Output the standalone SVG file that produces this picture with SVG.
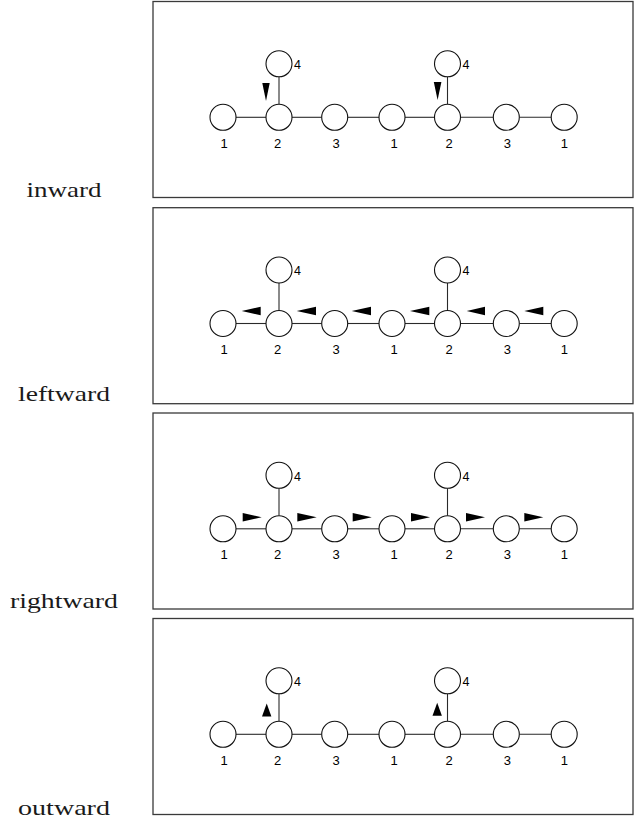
<svg xmlns="http://www.w3.org/2000/svg" width="639" height="819" viewBox="0 0 639 819">
  <style>
    .frame { fill: #ffffff; stroke: #3a3a3a; stroke-width: 1.3; }
    .edge { stroke: #2a2a2a; stroke-width: 1.1; fill: none; }
    .node circle { fill: #ffffff; stroke: #111111; stroke-width: 1.1; }
    .num { font-family: "Liberation Sans", Arial, sans-serif; font-size: 13px; fill: #000000; text-anchor: middle; }
    .num4 { font-family: "Liberation Sans", Arial, sans-serif; font-size: 12.5px; fill: #000000; }
    .mode { font-family: "Liberation Serif", "DejaVu Serif", serif; font-size: 21.5px; fill: #1a1a1a; text-anchor: middle; }
    .arrow { fill: #000000; }
  </style>
  <rect width="639" height="819" fill="#ffffff"/>

  <!-- mode captions -->
  <g id="captions">
    <text class="mode" x="64" y="197" textLength="75" lengthAdjust="spacingAndGlyphs">inward</text>
    <text class="mode" x="64" y="400.5" textLength="92" lengthAdjust="spacingAndGlyphs">leftward</text>
    <text class="mode" x="64" y="608" textLength="108" lengthAdjust="spacingAndGlyphs">rightward</text>
    <text class="mode" x="64" y="815" textLength="92" lengthAdjust="spacingAndGlyphs">outward</text>
  </g>

  <!-- ===== panel: inward ===== -->
  <g id="panel-inward">
    <rect class="frame" x="153" y="1.5" width="480" height="196"/>
    <g id="inward-connectors">
      <line class="edge" x1="236" y1="117.3" x2="266" y2="117.3"/>
      <line class="edge" x1="292" y1="117.3" x2="321.7" y2="117.3"/>
      <line class="edge" x1="347.7" y1="117.3" x2="379" y2="117.3"/>
      <line class="edge" x1="405" y1="117.3" x2="434.5" y2="117.3"/>
      <line class="edge" x1="460.5" y1="117.3" x2="493.3" y2="117.3"/>
      <line class="edge" x1="519.3" y1="117.3" x2="551.2" y2="117.3"/>
      <line class="edge" x1="279" y1="76.8" x2="279" y2="104.3"/>
      <line class="edge" x1="447.5" y1="76.8" x2="447.5" y2="104.3"/>
    </g>
    <g id="inward-n1a" class="node"><circle cx="223" cy="117.3" r="13"/><text class="num" x="224" y="147.5">1</text></g>
    <g id="inward-n2a" class="node"><circle cx="279" cy="117.3" r="13"/><text class="num" x="277.5" y="147.5">2</text></g>
    <g id="inward-n3a" class="node"><circle cx="334.7" cy="117.3" r="13"/><text class="num" x="336" y="147.5">3</text></g>
    <g id="inward-n1b" class="node"><circle cx="392" cy="117.3" r="13"/><text class="num" x="394" y="147.5">1</text></g>
    <g id="inward-n2b" class="node"><circle cx="447.5" cy="117.3" r="13"/><text class="num" x="449" y="147.5">2</text></g>
    <g id="inward-n3b" class="node"><circle cx="506.3" cy="117.3" r="13"/><text class="num" x="507.3" y="147.5">3</text></g>
    <g id="inward-n1c" class="node"><circle cx="564.2" cy="117.3" r="13"/><text class="num" x="564.3" y="147.5">1</text></g>
    <g id="inward-n4a" class="node"><circle cx="279" cy="63.8" r="13"/><text class="num4" x="294" y="69.3">4</text></g>
    <g id="inward-n4b" class="node"><circle cx="447.5" cy="63.8" r="13"/><text class="num4" x="462.5" y="69.3">4</text></g>
    <g id="inward-arrows">
      <polygon class="arrow" points="262.3,83 269.7,83 266,101"/>
      <polygon class="arrow" points="433.8,82 441.4,82 437.6,100"/>
    </g>
  </g>

  <!-- ===== panel: leftward ===== -->
  <g id="panel-leftward" transform="translate(0,206.2)">
    <rect class="frame" x="153" y="1.5" width="480" height="196"/>
    <g id="leftward-connectors">
      <line class="edge" x1="236" y1="117.3" x2="266" y2="117.3"/>
      <line class="edge" x1="292" y1="117.3" x2="321.7" y2="117.3"/>
      <line class="edge" x1="347.7" y1="117.3" x2="379" y2="117.3"/>
      <line class="edge" x1="405" y1="117.3" x2="434.5" y2="117.3"/>
      <line class="edge" x1="460.5" y1="117.3" x2="493.3" y2="117.3"/>
      <line class="edge" x1="519.3" y1="117.3" x2="551.2" y2="117.3"/>
      <line class="edge" x1="279" y1="76.8" x2="279" y2="104.3"/>
      <line class="edge" x1="447.5" y1="76.8" x2="447.5" y2="104.3"/>
    </g>
    <g id="leftward-n1a" class="node"><circle cx="223" cy="117.3" r="13"/><text class="num" x="224" y="147.5">1</text></g>
    <g id="leftward-n2a" class="node"><circle cx="279" cy="117.3" r="13"/><text class="num" x="277.5" y="147.5">2</text></g>
    <g id="leftward-n3a" class="node"><circle cx="334.7" cy="117.3" r="13"/><text class="num" x="336" y="147.5">3</text></g>
    <g id="leftward-n1b" class="node"><circle cx="392" cy="117.3" r="13"/><text class="num" x="394" y="147.5">1</text></g>
    <g id="leftward-n2b" class="node"><circle cx="447.5" cy="117.3" r="13"/><text class="num" x="449" y="147.5">2</text></g>
    <g id="leftward-n3b" class="node"><circle cx="506.3" cy="117.3" r="13"/><text class="num" x="507.3" y="147.5">3</text></g>
    <g id="leftward-n1c" class="node"><circle cx="564.2" cy="117.3" r="13"/><text class="num" x="564.3" y="147.5">1</text></g>
    <g id="leftward-n4a" class="node"><circle cx="279" cy="63.8" r="13"/><text class="num4" x="294" y="69.3">4</text></g>
    <g id="leftward-n4b" class="node"><circle cx="447.5" cy="63.8" r="13"/><text class="num4" x="462.5" y="69.3">4</text></g>
    <g id="leftward-arrows">
      <polygon class="arrow" points="241.7,104.8 260.7,100.6 260.7,109"/>
      <polygon class="arrow" points="296.7,104.8 316,100.6 316,109"/>
      <polygon class="arrow" points="351.7,104.8 371,100.6 371,109"/>
      <polygon class="arrow" points="410,104.8 429.3,100.6 429.3,109"/>
      <polygon class="arrow" points="466.7,104.8 485,100.6 485,109"/>
      <polygon class="arrow" points="524.3,104.8 543.3,100.6 543.3,109"/>
    </g>
  </g>

  <!-- ===== panel: rightward ===== -->
  <g id="panel-rightward" transform="translate(0,411.5)">
    <rect class="frame" x="153" y="1.5" width="480" height="196"/>
    <g id="rightward-connectors">
      <line class="edge" x1="236" y1="117.3" x2="266" y2="117.3"/>
      <line class="edge" x1="292" y1="117.3" x2="321.7" y2="117.3"/>
      <line class="edge" x1="347.7" y1="117.3" x2="379" y2="117.3"/>
      <line class="edge" x1="405" y1="117.3" x2="434.5" y2="117.3"/>
      <line class="edge" x1="460.5" y1="117.3" x2="493.3" y2="117.3"/>
      <line class="edge" x1="519.3" y1="117.3" x2="551.2" y2="117.3"/>
      <line class="edge" x1="279" y1="76.8" x2="279" y2="104.3"/>
      <line class="edge" x1="447.5" y1="76.8" x2="447.5" y2="104.3"/>
    </g>
    <g id="rightward-n1a" class="node"><circle cx="223" cy="117.3" r="13"/><text class="num" x="224" y="147.5">1</text></g>
    <g id="rightward-n2a" class="node"><circle cx="279" cy="117.3" r="13"/><text class="num" x="277.5" y="147.5">2</text></g>
    <g id="rightward-n3a" class="node"><circle cx="334.7" cy="117.3" r="13"/><text class="num" x="336" y="147.5">3</text></g>
    <g id="rightward-n1b" class="node"><circle cx="392" cy="117.3" r="13"/><text class="num" x="394" y="147.5">1</text></g>
    <g id="rightward-n2b" class="node"><circle cx="447.5" cy="117.3" r="13"/><text class="num" x="449" y="147.5">2</text></g>
    <g id="rightward-n3b" class="node"><circle cx="506.3" cy="117.3" r="13"/><text class="num" x="507.3" y="147.5">3</text></g>
    <g id="rightward-n1c" class="node"><circle cx="564.2" cy="117.3" r="13"/><text class="num" x="564.3" y="147.5">1</text></g>
    <g id="rightward-n4a" class="node"><circle cx="279" cy="63.8" r="13"/><text class="num4" x="294" y="69.3">4</text></g>
    <g id="rightward-n4b" class="node"><circle cx="447.5" cy="63.8" r="13"/><text class="num4" x="462.5" y="69.3">4</text></g>
    <g id="rightward-arrows">
      <polygon class="arrow" points="261.7,105.8 242.7,101.6 242.7,110"/>
      <polygon class="arrow" points="316.7,105.8 297.3,101.6 297.3,110"/>
      <polygon class="arrow" points="371.7,105.8 352.7,101.6 352.7,110"/>
      <polygon class="arrow" points="430,105.8 411,101.6 411,110"/>
      <polygon class="arrow" points="485,105.8 466,101.6 466,110"/>
      <polygon class="arrow" points="543.3,105.8 524.3,101.6 524.3,110"/>
    </g>
  </g>

  <!-- ===== panel: outward ===== -->
  <g id="panel-outward" transform="translate(0,617)">
    <rect class="frame" x="153" y="1.5" width="480" height="196"/>
    <g id="outward-connectors">
      <line class="edge" x1="236" y1="117.3" x2="266" y2="117.3"/>
      <line class="edge" x1="292" y1="117.3" x2="321.7" y2="117.3"/>
      <line class="edge" x1="347.7" y1="117.3" x2="379" y2="117.3"/>
      <line class="edge" x1="405" y1="117.3" x2="434.5" y2="117.3"/>
      <line class="edge" x1="460.5" y1="117.3" x2="493.3" y2="117.3"/>
      <line class="edge" x1="519.3" y1="117.3" x2="551.2" y2="117.3"/>
      <line class="edge" x1="279" y1="76.8" x2="279" y2="104.3"/>
      <line class="edge" x1="447.5" y1="76.8" x2="447.5" y2="104.3"/>
    </g>
    <g id="outward-n1a" class="node"><circle cx="223" cy="117.3" r="13"/><text class="num" x="224" y="147.5">1</text></g>
    <g id="outward-n2a" class="node"><circle cx="279" cy="117.3" r="13"/><text class="num" x="277.5" y="147.5">2</text></g>
    <g id="outward-n3a" class="node"><circle cx="334.7" cy="117.3" r="13"/><text class="num" x="336" y="147.5">3</text></g>
    <g id="outward-n1b" class="node"><circle cx="392" cy="117.3" r="13"/><text class="num" x="394" y="147.5">1</text></g>
    <g id="outward-n2b" class="node"><circle cx="447.5" cy="117.3" r="13"/><text class="num" x="449" y="147.5">2</text></g>
    <g id="outward-n3b" class="node"><circle cx="506.3" cy="117.3" r="13"/><text class="num" x="507.3" y="147.5">3</text></g>
    <g id="outward-n1c" class="node"><circle cx="564.2" cy="117.3" r="13"/><text class="num" x="564.3" y="147.5">1</text></g>
    <g id="outward-n4a" class="node"><circle cx="279" cy="63.8" r="13"/><text class="num4" x="294" y="69.3">4</text></g>
    <g id="outward-n4b" class="node"><circle cx="447.5" cy="63.8" r="13"/><text class="num4" x="462.5" y="69.3">4</text></g>
    <g id="outward-arrows">
      <polygon class="arrow" points="266.7,86.5 262,99.5 271.4,99.5"/>
      <polygon class="arrow" points="437.2,85.8 432.5,98.8 441.9,98.8"/>
    </g>
  </g>
</svg>
